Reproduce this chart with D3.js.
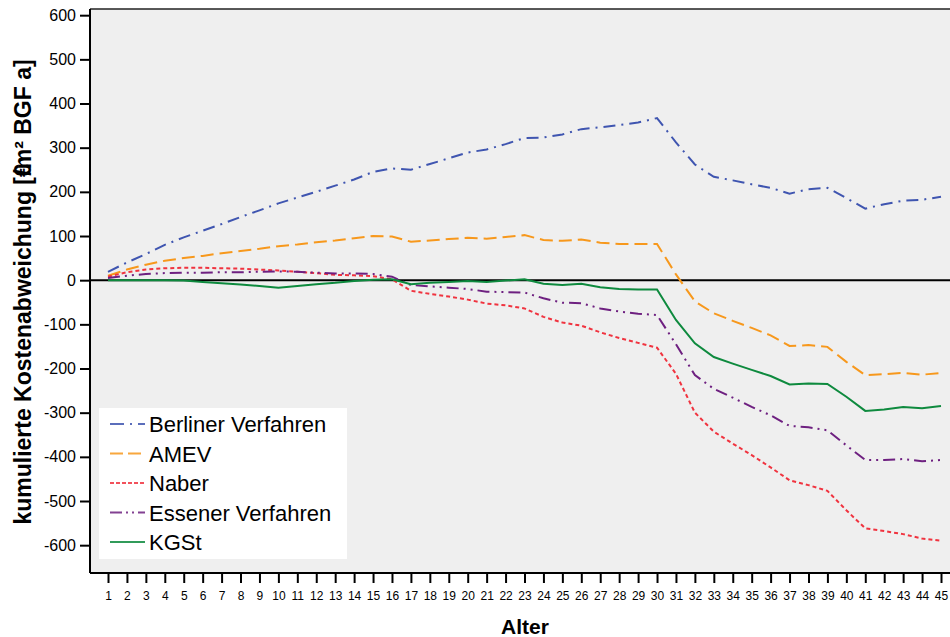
<html lang="de">
<head>
  <meta charset="UTF-8"/>
  <title>Kumulierte Kostenabweichung</title>
  <script src="https://d3js.org/d3.v7.min.js"></script>
  <style>
    body { margin: 0; background: #ffffff; }
    text { font-family: "Liberation Sans", Arial, sans-serif; fill: #000; }
  </style>
</head>
<body>
<svg id="chart"></svg>
<script>
// Alter (Jahre)
var alter = d3.range(1, 46);

var berliner = [19, 40, 59, 80, 97, 112, 127, 143, 158, 174, 187, 200, 214, 228, 245,
  253, 250, 263, 276, 289, 296, 308, 322, 323, 330, 342, 346, 351, 357, 367,
  312, 262, 234, 226, 217, 209, 196, 206, 209, 186, 162, 172, 180, 182, 189];
var amev = [10, 24, 35, 44, 50, 55, 61, 66, 71, 77, 81, 86, 90, 95, 100,
  99, 87, 90, 93, 96, 94, 98, 102, 91, 89, 92, 85, 82, 82, 82,
  13, -48, -75, -92, -108, -125, -149, -147, -151, -185, -215, -213, -210, -214, -210];
var naber = [8, 18, 24, 27, 28, 28, 27, 26, 24, 22, 19, 16, 12, 11, 9,
  2, -24, -31, -37, -44, -53, -57, -64, -83, -96, -103, -118, -131, -142, -153,
  -212, -300, -343, -370, -396, -424, -453, -464, -477, -521, -562, -568, -575, -585, -590];
var essener = [5, 10, 14, 16, 17, 17, 18, 18, 19, 20, 19, 17, 15, 15, 14,
  8, -11, -14, -17, -20, -26, -27, -28, -41, -51, -52, -64, -71, -76, -79,
  -145, -215, -246, -266, -287, -306, -330, -333, -340, -374, -407, -407, -405, -410, -407];
var kgst = [0, 0, 0, 0, -1, -4, -7, -10, -13, -17, -13, -9, -6, -2, 1,
  2, -9, -6, -4, -2, -4, -1, 2, -8, -11, -8, -16, -20, -21, -21,
  -90, -143, -174, -189, -203, -217, -236, -234, -235, -264, -296, -293, -287, -290, -285];

var yTicks = [-600, -500, -400, -300, -200, -100, 0, 100, 200, 300, 400, 500, 600];

var reihen = [
  { name: "Berliner Verfahren", werte: berliner, farbe: "#3f55b0", dash: "12,6,2,6", legDash: "14,6,2,6" },
  { name: "AMEV", werte: amev, farbe: "#f7981c", dash: "13,6", legDash: "13,5" },
  { name: "Naber", werte: naber, farbe: "#f0333f", dash: "4,3", legDash: "4,2" },
  { name: "Essener Verfahren", werte: essener, farbe: "#6e2080", dash: "12,5,2,5,2,5", legDash: "12,4,2,4,2,4" },
  { name: "KGSt", werte: kgst, farbe: "#0e8a3e", dash: null, legDash: null }
];

(function() {
  var width = 950, height = 637;
  var pLeft = 90, pTop = 9, pRight = 950, pBottom = 573;

  var svg = d3.select("#chart").attr("width", width).attr("height", height);

  var x = d3.scaleLinear().domain([1, 45]).range([108, 941]);
  var y = d3.scaleLinear().domain([-663, 614]).range([pBottom, pTop]);

  // plot background
  svg.append("rect")
    .attr("x", pLeft).attr("y", pTop)
    .attr("width", pRight - pLeft).attr("height", pBottom - pTop)
    .attr("fill", "#efefef");

  // top border
  svg.append("line")
    .attr("x1", pLeft).attr("x2", pRight).attr("y1", pTop).attr("y2", pTop)
    .attr("stroke", "#222").attr("stroke-width", 1.5);

  // zero line
  svg.append("line")
    .attr("x1", pLeft).attr("x2", pRight).attr("y1", y(0)).attr("y2", y(0))
    .attr("stroke", "#000").attr("stroke-width", 2);

  var line = d3.line()
    .x(function(d, i) { return x(alter[i]); })
    .y(function(d) { return y(d); });

  reihen.forEach(function(r) {
    svg.append("path")
      .datum(r.werte)
      .attr("d", line)
      .attr("fill", "none")
      .attr("stroke", r.farbe)
      .attr("stroke-width", 2)
      .attr("stroke-dasharray", r.dash);
  });

  // y axis
  var yAxis = svg.append("g")
    .attr("transform", "translate(" + pLeft + ",0)")
    .call(d3.axisLeft(y).tickValues(yTicks).tickSize(10).tickPadding(4)
      .tickFormat(function(d) { return String(d); }));
  yAxis.select(".domain").attr("stroke", "#000").attr("stroke-width", 2)
    .attr("d", "M0," + pTop + "V" + pBottom);
  yAxis.selectAll(".tick line").attr("stroke", "#000").attr("stroke-width", 2);
  yAxis.selectAll(".tick text").style("font-size", "16px")
    .style("font-family", "'Liberation Sans', Arial, sans-serif");

  // x axis
  var xAxis = svg.append("g")
    .attr("transform", "translate(0," + pBottom + ")")
    .call(d3.axisBottom(x).tickValues(alter).tickSize(10).tickPadding(8)
      .tickFormat(d3.format("d")));
  xAxis.select(".domain").attr("stroke", "#000").attr("stroke-width", 2)
    .attr("d", "M" + pLeft + ",0H" + pRight);
  xAxis.selectAll(".tick line").attr("stroke", "#000").attr("stroke-width", 2);
  xAxis.selectAll(".tick text").style("font-size", "12px")
    .style("font-family", "'Liberation Sans', Arial, sans-serif");

  // axis titles
  svg.append("text")
    .attr("x", 525).attr("y", 634)
    .attr("text-anchor", "middle")
    .style("font-size", "21px").style("font-weight", "bold")
    .text("Alter");

  var yTitle = svg.append("text")
    .attr("transform", "translate(31,292) rotate(-90)")
    .attr("text-anchor", "middle")
    .style("font-size", "23px").style("font-weight", "bold");
  yTitle.append("tspan").text("kumulierte Kostenabweichung [€");
  yTitle.append("tspan").attr("dx", "-0.5em").text("/m² BGF a]");

  // legend
  var legend = svg.append("g");
  legend.append("rect")
    .attr("x", 99).attr("y", 408).attr("width", 248).attr("height", 151)
    .attr("fill", "#ffffff");

  reihen.forEach(function(r, i) {
    var ly = 424 + i * 29.5;
    legend.append("line")
      .attr("x1", 110).attr("x2", 145).attr("y1", ly).attr("y2", ly)
      .attr("stroke", r.farbe).attr("stroke-width", 2)
      .attr("stroke-dasharray", r.legDash)
      .attr("opacity", 0.85);
    legend.append("text")
      .attr("x", 149).attr("y", ly + 8)
      .style("font-size", "22px")
      .text(r.name);
  });
})();
</script>
</body>
</html>
